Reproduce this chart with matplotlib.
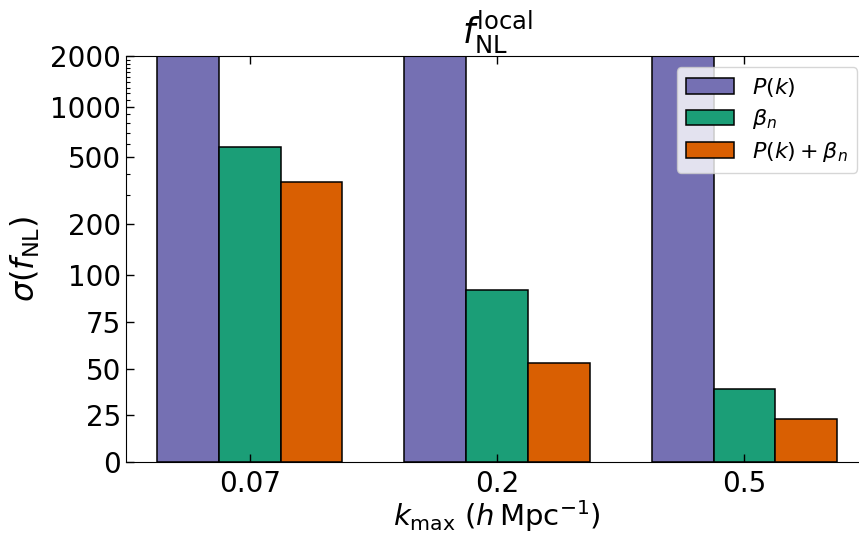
import numpy as np
import matplotlib
matplotlib.use("Agg")
import matplotlib.pyplot as plt
from matplotlib.ticker import FixedLocator, FixedFormatter

# k_max groups and sigma(f_NL) for each probe
kmax_labels = ["0.07", "0.2", "0.5"]
sigma_pk = [5000, 4000, 3000]        # off the top of the plot
sigma_beta = [580, 92, 39]
sigma_comb = [356, 53, 23]
labels = [r"$P(k)$", r"$\beta_n$", r"$P(k) + \beta_n$"]
colors = ["#7570b3", "#1b9e77", "#d95f02"]

yticks = [0, 25, 50, 75, 100, 200, 500, 1000, 2000]
yminor = [m for m in range(300, 2000, 100) if m not in yticks]

fig = plt.figure(figsize=(8.59, 5.35), dpi=100)
ax = fig.add_axes([0.1467, 0.1364, 0.864, 0.7589])

x = np.arange(len(kmax_labels))
w = 0.25
for i, (vals, lab, col) in enumerate(zip([sigma_pk, sigma_beta, sigma_comb], labels, colors)):
    ax.bar(x + (i - 1) * w, vals, w, color=col, edgecolor="black",
           linewidth=1.1, label=lab)

ax.set_yscale("symlog", linthresh=100, linscale=1.0)
ax.set_ylim(0, 2000)
ax.set_xlim(-0.5, 2.5)
ax.yaxis.set_major_locator(FixedLocator(yticks))
ax.yaxis.set_major_formatter(FixedFormatter([str(t) for t in yticks]))
ax.yaxis.set_minor_locator(FixedLocator(yminor))
ax.set_xticks(x)
ax.set_xticklabels(kmax_labels)
ax.tick_params(which="both", direction="in", top=True, right=True, labelsize=20)
ax.tick_params(which="major", length=6, width=1)
ax.tick_params(which="minor", length=3, width=0.8)
ax.tick_params(axis="x", pad=6)

ax.set_xlabel(r"$k_{\rm max}\ (h\,{\rm Mpc}^{-1})$", fontsize=21, labelpad=0)
ax.set_ylabel(r"$\sigma(f_{\rm NL})$", fontsize=23, labelpad=6)
ax.set_title(r"$f_{\rm NL}^{\rm local}$", fontsize=25, pad=2)
ax.legend(loc="upper right", fontsize=16, labelspacing=0.38, handlelength=2.2)

fig.savefig("out.png", dpi=100)
